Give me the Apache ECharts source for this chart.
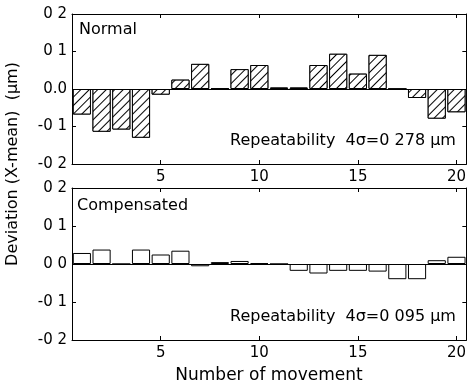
<!DOCTYPE html>
<html>
<head>
<meta charset="utf-8">
<script src="https://cdn.jsdelivr.net/npm/echarts@6/dist/echarts.min.js"></script>
<style>
  html, body { margin: 0; padding: 0; background: #fff; }
  #main { width: 469px; height: 386px; }
</style>
</head>
<body>
<div id="main"></div>
<script>
// movement number 1..20
var movements = ['1','2','3','4','5','6','7','8','9','10','11','12','13','14','15','16','17','18','19','20'];
// deviation (X-mean) in um
var normalDev = [-0.068, -0.114, -0.108, -0.130, -0.015, 0.025, 0.067, 0.001, 0.053, 0.064,
                 0.004, 0.004, 0.064, 0.094, 0.041, 0.091, 0.0, -0.024, -0.079, -0.062];
var compDev = [0.029, 0.038, 0.0, 0.038, 0.025, 0.035, -0.006, 0.005, 0.008, 0.002,
               0.0, -0.018, -0.025, -0.018, -0.018, -0.020, -0.040, -0.040, 0.010, 0.019];
// tick labels as printed on the scan
var yTicksTop = ['-0 2', '-0 1', '0.0', '0 1', '0 2'];
var yTicksBottom = ['-0 2', '-0 1', '0 0', '0 1', '0 2'];
var xTickShown = ['5', '10', '15', '20'];

var FONT = 'DejaVu Sans';

function yAxisFor(gridIndex, labels, pos) {
    return {
        type: 'value', gridIndex: gridIndex, min: -0.2, max: 0.2, interval: 0.1, position: pos,
        axisLine: { show: true, lineStyle: { color: '#000', width: 1 } },
        axisTick: { show: true, inside: true, length: 4, lineStyle: { color: '#000' } },
        splitLine: { show: false },
        axisLabel: {
            show: !!labels,
            color: '#000', fontFamily: FONT, fontSize: 15, margin: 5,
            formatter: function (v) {
                return labels ? labels[Math.round((v + 0.2) / 0.1)] : '';
            }
        }
    };
}

function xAxisFor(gridIndex, pos) {
    var pick = function (idx, val) { return xTickShown.indexOf(val) >= 0; };
    return {
        type: 'category', gridIndex: gridIndex, data: movements, position: pos,
        axisLine: { show: true, onZero: false, lineStyle: { color: '#000', width: 1 } },
        axisTick: { show: true, inside: true, length: 4, alignWithLabel: true,
                    interval: function (idx) { return (idx + 1) % 5 === 0; },
                    lineStyle: { color: '#000' } },
        axisLabel: { show: pos === 'bottom', color: '#000', fontFamily: FONT, fontSize: 15, margin: 6, interval: pick },
        splitLine: { show: false }
    };
}

var zeroLine = {
    silent: true, symbol: 'none',
    label: { show: false },
    lineStyle: { color: '#000', type: 'solid', width: 1 },
    data: [{ yAxis: 0 }]
};

var chart = echarts.init(document.getElementById('main'));
var option = {
    animation: false,
    backgroundColor: '#fff',
    grid: [
        { left: 72, right: 2, top: 14, height: 150 },
        { left: 72, right: 2, top: 188, height: 152 }
    ],
    xAxis: [xAxisFor(0, 'bottom'), xAxisFor(1, 'bottom'), xAxisFor(0, 'top'), xAxisFor(1, 'top')],
    yAxis: [yAxisFor(0, yTicksTop, 'left'), yAxisFor(1, yTicksBottom, 'left'),
            yAxisFor(0, null, 'right'), yAxisFor(1, null, 'right')],
    series: [
        {
            name: 'Normal', type: 'bar', xAxisIndex: 0, yAxisIndex: 0,
            data: normalDev, barCategoryGap: '8%',
            itemStyle: {
                color: '#fff', borderColor: '#000', borderWidth: 1,
                decal: {
                    symbol: 'rect', symbolSize: 1, color: '#000', backgroundColor: '#fff',
                    dashArrayX: [1, 0], dashArrayY: [1, 5], rotation: -Math.PI / 4
                }
            },
            markLine: zeroLine
        },
        {
            name: 'Compensated', type: 'bar', xAxisIndex: 1, yAxisIndex: 1,
            data: compDev, barCategoryGap: '8%',
            itemStyle: { color: '#fff', borderColor: '#000', borderWidth: 1 },
            markLine: zeroLine
        }
    ],
    graphic: [
        { type: 'text', left: 79, top: 22, style: { text: 'Normal', font: '16px "DejaVu Sans"', fill: '#000' } },
        { type: 'text', left: 230, top: 133, style: { text: 'Repeatability  4\u03c3=0 278 \u00b5m', font: '16px "DejaVu Sans"', fill: '#000' } },
        { type: 'text', left: 77, top: 198, style: { text: 'Compensated', font: '16px "DejaVu Sans"', fill: '#000' } },
        { type: 'text', left: 230, top: 309, style: { text: 'Repeatability  4\u03c3=0 095 \u00b5m', font: '16px "DejaVu Sans"', fill: '#000' } },
        { type: 'text', x: 269, y: 376, style: { text: 'Number of movement', font: '17px "DejaVu Sans"', fill: '#000', align: 'center', verticalAlign: 'middle' } },
        { type: 'text', x: 13, y: 164, rotation: Math.PI / 2, style: { text: 'Deviation (X-mean)  (\u00b5m)', font: '16px "DejaVu Sans"', fill: '#000', align: 'center', verticalAlign: 'middle' } }
    ]
};
chart.setOption(option);
</script>
</body>
</html>
